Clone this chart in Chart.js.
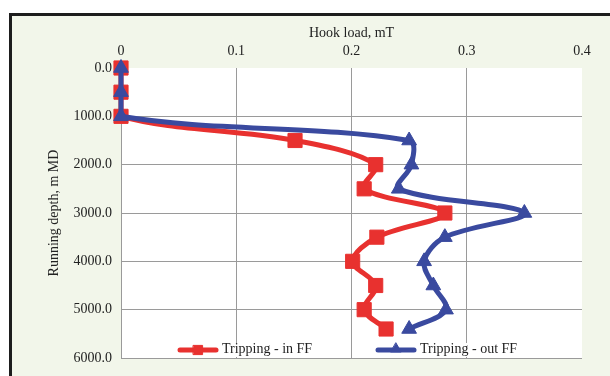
<!DOCTYPE html>
<html>
<head>
<meta charset="utf-8">
<script src="https://cdn.jsdelivr.net/npm/chart.js@4/dist/chart.umd.min.js"></script>
<style>
  html, body { margin: 0; padding: 0; background: #ffffff; width: 610px; height: 376px; overflow: hidden; }
  #frame { position: absolute; left: 9px; top: 13px; width: 640px; height: 400px;
           border-left: 3px solid #1d1d1d; border-top: 3px solid #1d1d1d; background: #f2f6ea; }
  #wrap { position: absolute; left: 0; top: 0; width: 610px; height: 376px; }
</style>
</head>
<body>
<div id="frame"></div>
<div id="wrap"><canvas id="chart" width="610" height="376"></canvas></div>
<script>
// Running depth (m MD) of each reading
const depths = [0, 500, 1000, 1500, 2000, 2500, 3000, 3500, 4000, 4500, 5000, 5400];
// Hook load (mT) while tripping in and out with friction factor
const trippingIn  = [0, 0, 0, 0.151, 0.221, 0.211, 0.281, 0.222, 0.201, 0.221, 0.211, 0.230];
const trippingOut = [0, 0, 0, 0.250, 0.252, 0.241, 0.350, 0.281, 0.263, 0.271, 0.282, 0.250];
const xTicks = [0, 0.1, 0.2, 0.3, 0.4];
const yTicks = [0, 1000, 2000, 3000, 4000, 5000, 6000];
const seriesNames = ['Tripping - in FF', 'Tripping - out FF'];

const RED = '#e8312f';
const BLUE = '#3a4a9f';
const FONT = "'Liberation Serif', 'Times New Roman', serif";

const PAD_LEFT = 46;
const PAD_TOP = 25;

const toPoints = (xs) => xs.map((v, i) => ({ x: v, y: depths[i] }));

// White plotting area over the tinted chart background
const plotBg = {
  id: 'plotBg',
  beforeDraw(chart) {
    const { ctx, chartArea: a } = chart;
    ctx.save();
    ctx.fillStyle = '#ffffff';
    ctx.fillRect(a.left, a.top, a.right - a.left, a.bottom - a.top);
    ctx.restore();
  }
};

// Legend entries drawn inside the plot, along its bottom edge
const LEGEND_SLOTS = [178, 376];
const legendItems = (chart) =>
  chart.data.datasets.slice().sort((p, q) => p.legendIndex - q.legendIndex);

const innerLegend = {
  id: 'innerLegend',
  beforeDatasetsDraw(chart) {
    const { ctx, chartArea: a } = chart;
    ctx.save();
    ctx.font = '14px ' + FONT;
    ctx.fillStyle = '#ffffff';
    legendItems(chart).forEach((ds, k) => {
      const x0 = LEGEND_SLOTS[k];
      const w = 45 + ctx.measureText(ds.label).width + 6;
      ctx.fillRect(x0 - 4, a.bottom - 15, w, 14);
    });
    ctx.restore();
  },
  afterDatasetsDraw(chart) {
    const { ctx, chartArea: a } = chart;
    const y = a.bottom - 8;
    ctx.save();
    legendItems(chart).forEach((ds, k) => {
      const x0 = LEGEND_SLOTS[k];
      ctx.strokeStyle = ds.borderColor;
      ctx.lineWidth = 5;
      ctx.lineCap = 'round';
      ctx.beginPath();
      ctx.moveTo(x0 + 2, y);
      ctx.lineTo(x0 + 38, y);
      ctx.stroke();
      ctx.fillStyle = ds.backgroundColor;
      ctx.strokeStyle = ds.borderColor;
      ctx.lineWidth = 1;
      Chart.helpers.drawPoint(ctx, {
        pointStyle: ds.pointStyle, radius: ds.legendPointRadius, rotation: 0, borderWidth: 1
      }, x0 + 20, ds.pointStyle === 'triangle' ? y - 1 : y);
      ctx.fillStyle = '#222';
      ctx.font = '14px ' + FONT;
      ctx.textBaseline = 'middle';
      ctx.textAlign = 'left';
      ctx.fillText(ds.label, x0 + 44, y - 1);
    });
    ctx.restore();
  }
};

const ctx = document.getElementById('chart').getContext('2d');
new Chart(ctx, {
  type: 'scatter',
  data: {
    datasets: [
      {
        label: seriesNames[1],
        legendIndex: 1,
        legendPointRadius: 6,
        data: toPoints(trippingOut),
        showLine: true,
        borderColor: BLUE,
        backgroundColor: BLUE,
        borderWidth: 5,
        pointStyle: 'triangle',
        pointRadius: 8.5,
        pointBorderWidth: 1,
        tension: 0.35,
        clip: false,
        order: 0
      },
      {
        label: seriesNames[0],
        legendIndex: 0,
        legendPointRadius: 6.5,
        data: toPoints(trippingIn),
        showLine: true,
        borderColor: RED,
        backgroundColor: RED,
        borderWidth: 5,
        pointStyle: 'rect',
        pointRadius: 10,
        pointBorderWidth: 1,
        tension: 0.35,
        clip: false,
        order: 1
      }
    ]
  },
  options: {
    responsive: false,
    animation: false,
    layout: { padding: { left: PAD_LEFT, right: 28, top: PAD_TOP, bottom: 18 } },
    plugins: { legend: { display: false }, tooltip: { enabled: false } },
    scales: {
      x: {
        type: 'linear',
        position: 'top',
        min: 0,
        max: 0.4,
        afterBuildTicks(s) { s.ticks = xTicks.map(v => ({ value: v })); },
        afterFit(s) { s.height = 68 - PAD_TOP; },
        border: { display: false },
        grid: {
          drawTicks: false,
          lineWidth: 1,
          color: (c) => (c.tick && c.tick.value >= 0.4) ? 'rgba(0,0,0,0)' : '#9a9a9a'
        },
        ticks: {
          padding: 8,
          color: '#222',
          font: { family: FONT, size: 14 },
          callback: (v) => (v === 0 ? '0' : String(+v.toFixed(1)))
        },
        title: {
          display: true,
          text: 'Hook load, mT',
          color: '#222',
          font: { family: FONT, size: 14 },
          padding: { top: 0, bottom: 0 }
        }
      },
      y: {
        type: 'linear',
        reverse: true,
        min: 0,
        max: 6000,
        afterBuildTicks(s) { s.ticks = yTicks.map(v => ({ value: v })); },
        afterFit(s) { s.width = 121 - PAD_LEFT; },
        border: { display: false },
        grid: {
          drawTicks: false,
          lineWidth: 1,
          color: (c) => (c.tick && c.tick.value === 0) ? 'rgba(0,0,0,0)' : '#9a9a9a'
        },
        ticks: {
          padding: 9,
          color: '#222',
          font: { family: FONT, size: 14 },
          callback: (v) => v.toFixed(1)
        },
        title: {
          display: true,
          text: 'Running depth, m MD',
          color: '#222',
          font: { family: FONT, size: 14 },
          padding: { top: 0, bottom: 0 }
        }
      }
    }
  },
  plugins: [plotBg, innerLegend]
});
</script>
</body>
</html>
